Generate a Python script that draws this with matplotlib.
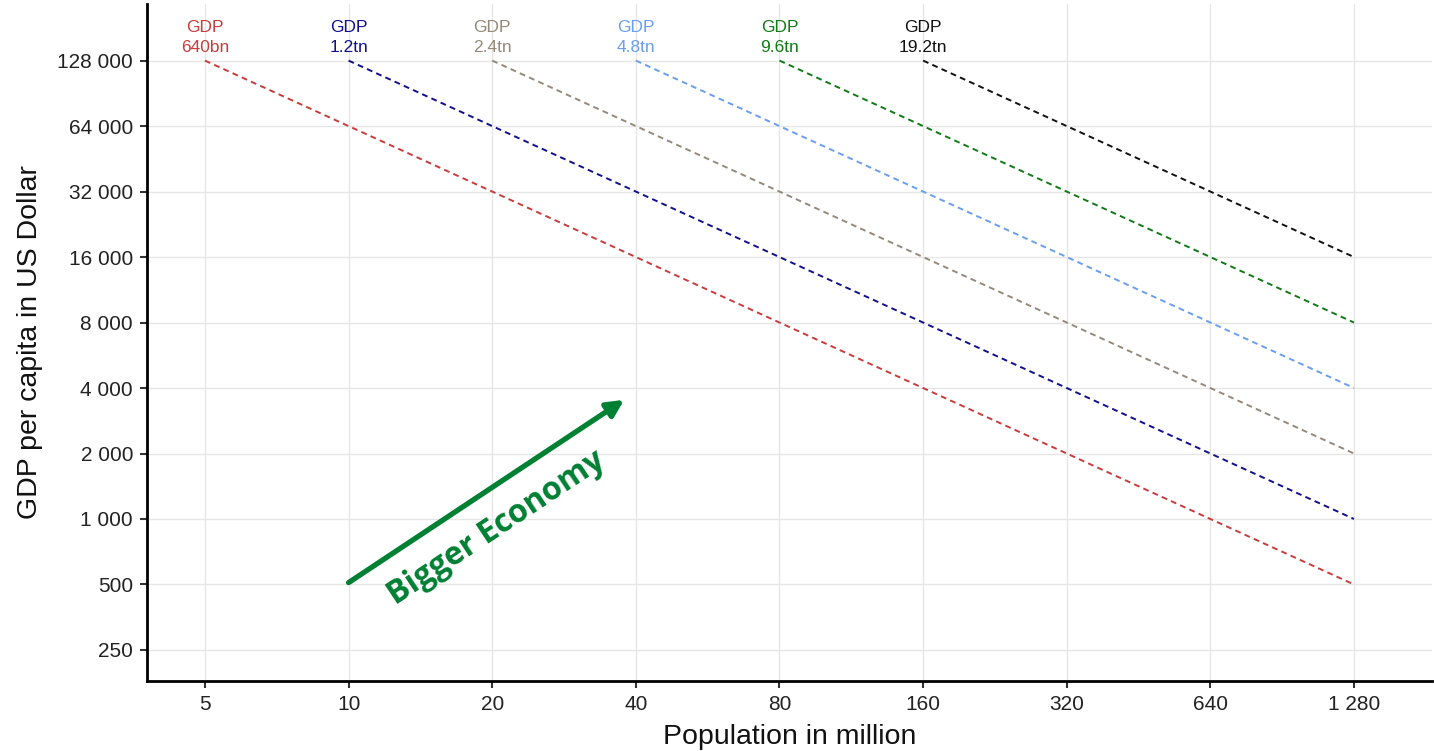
import numpy as np
import matplotlib.pyplot as plt
from matplotlib.ticker import FixedLocator, FuncFormatter, NullLocator

plt.rcParams["font.family"] = ["Liberation Sans", "DejaVu Sans"]

# start population of each iso-GDP line (million), all start at 128 000 $ per capita
pop_start = [5, 10, 20, 40, 80, 160]
pop_end = 1280
gdp_pc_start = 128000
gdp_labels = ["640bn", "1.2tn", "2.4tn", "4.8tn", "9.6tn", "19.2tn"]
colors = ["#c83c3c", "#10108c", "#958979", "#6a9ef0", "#117a17", "#111111"]

x_ticks = [5, 10, 20, 40, 80, 160, 320, 640, 1280]
y_ticks = [250, 500, 1000, 2000, 4000, 8000, 16000, 32000, 64000, 128000]

# arrow (population, gdp per capita)
arrow_from = (10, 510)
arrow_to = (37.8, 3530)


def fmt(v, pos=None):
    return "{:,}".format(int(round(v))).replace(",", " ")


fig = plt.figure(figsize=(14.34, 7.51), dpi=100)
ax = fig.add_axes([147 / 1434, 1 - 681 / 751, (1432 - 147) / 1434, (681 - 4) / 751])
ax.set_xscale("log", base=2)
ax.set_yscale("log", base=2)
ax.set_xlim(3.78, 1865)
ax.set_ylim(180, 233000)

for p, lab, c in zip(pop_start, gdp_labels, colors):
    total = p * gdp_pc_start
    xs = np.array([p, pop_end])
    ax.plot(xs, total / xs, color=c, lw=1.4, ls=(0, (3, 2.2)))
    ax.annotate("GDP", (p, gdp_pc_start), xytext=(0, 33), textcoords="offset pixels",
                ha="center", va="center", color=c, fontsize=12.5)
    ax.annotate(lab, (p, gdp_pc_start), xytext=(0, 13), textcoords="offset pixels",
                ha="center", va="center", color=c, fontsize=12.5)

green = "#008033"
ax.annotate("", xy=arrow_to, xytext=arrow_from,
            arrowprops=dict(arrowstyle="-|>,head_length=1.0,head_width=0.5",
                            color=green, lw=3.8, shrinkA=0, shrinkB=0))
ax.text(20.4, 910, "Bigger Economy", rotation=33.6, rotation_mode="anchor",
        ha="center", va="center", color=green, fontsize=23, fontweight="bold",
        family=["Open Sans", "DejaVu Sans"])

ax.xaxis.set_major_locator(FixedLocator(x_ticks))
ax.yaxis.set_major_locator(FixedLocator(y_ticks))
ax.xaxis.set_minor_locator(NullLocator())
ax.yaxis.set_minor_locator(NullLocator())
ax.xaxis.set_major_formatter(FuncFormatter(fmt))
ax.yaxis.set_major_formatter(FuncFormatter(fmt))
ax.tick_params(axis="both", length=5, width=1.5, color="#333333", labelsize=15,
               labelcolor="#222222", pad=5)
ax.grid(True, color="#e6e6e6", lw=1)
ax.set_axisbelow(True)
for s in ["top", "right"]:
    ax.spines[s].set_visible(False)
for s in ["left", "bottom"]:
    ax.spines[s].set_linewidth(2)
    ax.spines[s].set_color("black")

ax.set_xlabel("Population in million", fontsize=20.5, color="#111111", labelpad=7)
ax.set_ylabel("GDP per capita in US Dollar", fontsize=20.5, color="#111111", labelpad=10)

fig.savefig("out.png", dpi=100)
